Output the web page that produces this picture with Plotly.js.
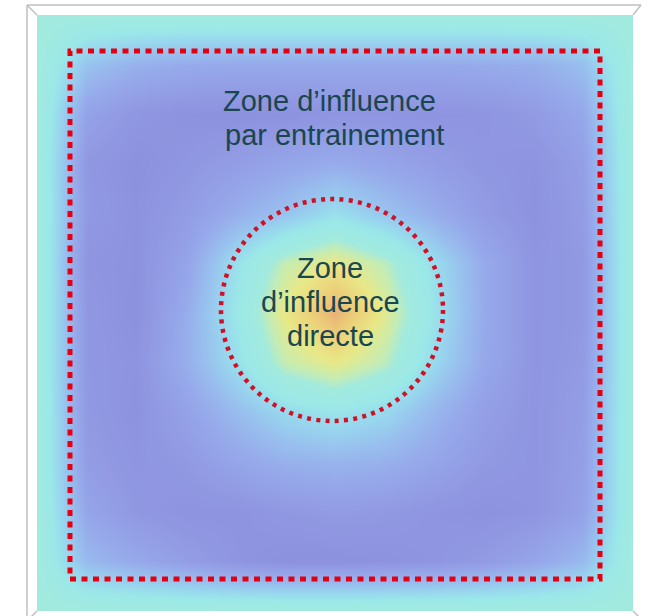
<!DOCTYPE html>
<html>
<head>
<meta charset="utf-8">
<script src="https://cdn.plot.ly/plotly-3.0.1.min.js"></script>
<style>
  html, body { margin: 0; padding: 0; background: #ffffff; }
  #chart { width: 649px; height: 616px; }
</style>
</head>
<body>
<div id="chart"></div>
<script>
// Grid nodes (13 x 13) across the square field
const xNodes = [0, 1, 2, 3, 4, 5, 6, 7, 8, 9, 10, 11, 12];
const yNodes = [0, 1, 2, 3, 4, 5, 6, 7, 8, 9, 10, 11, 12];

// Field intensity per row (top row first), estimated from colours
const row00 = [6.2, 6.2, 6.2, 6.2, 6.2, 6.2, 6.2, 6.2, 6.2, 6.2, 6.2, 6.2, 6.2];
const row01 = [6.2, 3.4, 2.6, 2.3, 2.2, 2.2, 2.2, 2.2, 2.2, 2.3, 2.5, 3.2, 6.2];
const row02 = [6.2, 1.8, 1.0, 0.7, 0.6, 0.7, 0.9, 0.9, 0.8, 0.9, 1.3, 2.2, 6.2];
const row03 = [6.2, 1.1, 0.6, 1.0, 1.5, 2.0, 2.4, 2.0, 1.5, 1.0, 0.8, 1.6, 6.2];
const row04 = [6.2, 1.2, 0.7, 1.4, 2.5, 3.4, 4.6, 3.5, 2.5, 1.4, 0.7, 1.4, 6.2];
const row05 = [6.2, 0.9, 0.7, 1.9, 4.6, 6.9, 7.9, 6.7, 4.5, 2.3, 0.9, 1.2, 6.2];
const row06 = [6.2, 1.1, 0.6, 2.4, 5.0, 7.9, 9.9, 7.6, 4.8, 2.3, 0.9, 1.2, 6.2];
const row07 = [6.2, 1.1, 0.8, 2.5, 4.5, 6.9, 7.8, 6.7, 4.3, 2.2, 0.9, 1.3, 6.2];
const row08 = [6.2, 1.2, 0.7, 1.8, 3.1, 4.3, 4.9, 4.3, 2.9, 1.6, 0.9, 1.5, 6.2];
const row09 = [6.2, 1.4, 0.9, 1.2, 2.0, 2.6, 2.8, 2.6, 2.0, 1.2, 0.9, 1.6, 6.2];
const row10 = [6.2, 2.0, 1.1, 0.8, 0.8, 1.1, 1.3, 1.2, 0.9, 0.7, 0.9, 1.8, 6.2];
const row11 = [6.2, 3.0, 2.2, 1.5, 0.9, 0.6, 0.6, 0.7, 0.9, 1.3, 2.0, 3.0, 6.2];
const row12 = [6.2, 6.2, 6.2, 6.2, 6.2, 6.2, 6.2, 6.2, 6.2, 6.2, 6.2, 6.2, 6.2];

// Labels
const outerLabel = ["Zone d’influence", "par entrainement"];
const innerLabel = ["Zone", "d’influence", "directe"];

const zGrid = [row00, row01, row02, row03, row04, row05, row06, row07, row08, row09, row10, row11, row12];

const colorscale = [
  [0.00, "rgb(136,138,216)"],
  [0.10, "rgb(144,150,225)"],
  [0.22, "rgb(150,168,234)"],
  [0.32, "rgb(152,190,238)"],
  [0.42, "rgb(152,215,238)"],
  [0.50, "rgb(155,232,232)"],
  [0.62, "rgb(162,234,222)"],
  [0.69, "rgb(198,236,178)"],
  [0.78, "rgb(232,232,135)"],
  [0.90, "rgb(236,205,120)"],
  [1.00, "rgb(230,175,118)"]
];

// pixel -> paper helpers (plot area is 37..633 x 15..611)
function px(x) { return (x - 37) / 596; }
function py(y) { return (611 - y) / 596; }

const frameColor = "rgb(192,192,192)";
function seg(x0, y0, x1, y1) {
  return { type: "line", xref: "paper", yref: "paper",
           x0: px(x0), y0: py(y0), x1: px(x1), y1: py(y1),
           line: { color: frameColor, width: 1.5 } };
}

const shapes = [
  seg(27, 5, 641, 5),
  seg(27, 5, 27, 622),
  seg(27, 5, 37, 15),
  seg(641, 5, 633, 15),
  seg(37, 611, 31, 617),
  seg(633, 611, 639, 617),
  { type: "rect", xref: "paper", yref: "paper",
    x0: px(70), x1: px(600), y0: py(579), y1: py(51),
    line: { color: "rgb(228,0,18)", width: 5, dash: "6px,5.5px" } },
  { type: "circle", xref: "paper", yref: "paper",
    x0: px(221), x1: px(443), y0: py(421), y1: py(199),
    line: { color: "rgb(205,18,40)", width: 4.5, dash: "4px,5.3px" } }
];

const textColor = "rgb(26,70,80)";
function label(text, cx, baseline) {
  return { text: text, xref: "paper", yref: "paper",
           x: px(cx), y: py(baseline - 9), xanchor: "center", yanchor: "middle",
           showarrow: false,
           font: { family: "Liberation Sans, Arial, sans-serif", size: 29, color: textColor } };
}

const annotations = [
  label(outerLabel[0], 329, 110),
  label(outerLabel[1], 334, 144),
  label(innerLabel[0], 330, 277),
  label(innerLabel[1], 330, 311),
  label(innerLabel[2], 330, 345)
];

const trace = {
  type: "heatmap",
  x: xNodes,
  y: yNodes,
  z: zGrid,
  zmin: 0,
  zmax: 10,
  zsmooth: "best",
  colorscale: colorscale,
  showscale: false,
  hoverinfo: "skip"
};

const layout = {
  width: 649,
  height: 616,
  margin: { l: 37, r: 16, t: 15, b: 5, pad: 0 },
  paper_bgcolor: "#ffffff",
  plot_bgcolor: "#ffffff",
  xaxis: { range: [0, 12], visible: false, fixedrange: true },
  yaxis: { range: [12, 0], visible: false, fixedrange: true },
  shapes: shapes,
  annotations: annotations,
  showlegend: false
};

Plotly.newPlot("chart", [trace], layout, { displayModeBar: false, staticPlot: true });
</script>
</body>
</html>
